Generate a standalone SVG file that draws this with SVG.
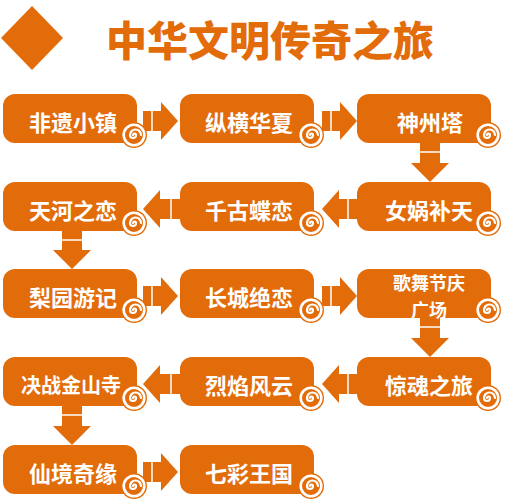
<svg xmlns="http://www.w3.org/2000/svg" xmlns:xlink="http://www.w3.org/1999/xlink" width="532" height="500" viewBox="0 0 532 500">
<style>
.box{fill:#E36C0A}
.arr{fill:#E36C0A}
.sep{stroke:#ffffff;stroke-width:1.5}
.lbl{font-family:"Noto Sans CJK SC","Noto Sans",sans-serif;font-weight:700;font-size:22px;fill:#ffffff;text-anchor:middle;dominant-baseline:central}
.title{font-family:"Noto Sans CJK SC","Noto Sans",sans-serif;font-weight:900;font-size:41px;fill:#E36C0A;text-anchor:middle;dominant-baseline:central}
</style>
<defs>
<g id="sp">
<circle r="13" fill="#E36C0A"/>
<circle r="10.3" fill="none" stroke="#ffffff" stroke-width="2.6"/>
<path d="M-1,0 A1.5,1.5 0 0 1 2,0 A3,3 0 0 1 -4,0 A5.5,5.5 0 0 1 7,0" fill="none" stroke="#ffffff" stroke-width="2.2" stroke-linecap="round"/>
</g>
</defs>
<rect width="532" height="500" fill="#ffffff"/>
<g id="title">
<polygon points="32,6 63,38 32,70 1,38" fill="#E36C0A"/>
<text class="title" x="270" y="38">中华文明传奇之旅</text>
</g>
<g id="connectors">
<path class="arr" d="M143,111 H161 V102 L178,121 L161,140 V131 H143 Z"/><line class="sep" x1="152" y1="111" x2="152" y2="131"/>
<path class="arr" d="M322,111 H340 V102 L357,121 L340,140 V131 H322 Z"/><line class="sep" x1="331" y1="111" x2="331" y2="131"/>
<path class="arr" d="M420,143 V163 H411 L430,182 L449,163 H440 V143 Z"/><line class="sep" x1="420" y1="152" x2="440" y2="152"/>
<path class="arr" d="M180,199 H160 V190 L143,209 L160,228 V219 H180 Z"/><line class="sep" x1="171" y1="199" x2="171" y2="219"/>
<path class="arr" d="M357,199 H339 V190 L322,209 L339,228 V219 H357 Z"/><line class="sep" x1="348" y1="199" x2="348" y2="219"/>
<path class="arr" d="M62,231 V250 H53 L72,269 L91,250 H82 V231 Z"/><line class="sep" x1="62" y1="240" x2="82" y2="240"/>
<path class="arr" d="M143,286 H161 V277 L178,296 L161,315 V306 H143 Z"/><line class="sep" x1="152" y1="286" x2="152" y2="306"/>
<path class="arr" d="M322,286 H340 V277 L357,296 L340,315 V306 H322 Z"/><line class="sep" x1="331" y1="286" x2="331" y2="306"/>
<path class="arr" d="M420,318 V338 H411 L430,357 L449,338 H440 V318 Z"/><line class="sep" x1="420" y1="327" x2="440" y2="327"/>
<path class="arr" d="M180,374 H160 V365 L143,384 L160,403 V394 H180 Z"/><line class="sep" x1="171" y1="374" x2="171" y2="394"/>
<path class="arr" d="M357,374 H339 V365 L322,384 L339,403 V394 H357 Z"/><line class="sep" x1="348" y1="374" x2="348" y2="394"/>
<path class="arr" d="M62,406 V426 H53 L72,445 L91,426 H82 V406 Z"/><line class="sep" x1="62" y1="415" x2="82" y2="415"/>
<path class="arr" d="M143,462 H161 V453 L178,472 L161,491 V482 H143 Z"/><line class="sep" x1="152" y1="462" x2="152" y2="482"/>
</g>
<g id="n1"><rect class="box" x="3" y="94" width="134" height="49" rx="12"/><text class="lbl" x="73" y="121">非遗小镇</text><use xlink:href="#sp" x="134" y="135"/></g>
<g id="n2"><rect class="box" x="180" y="94" width="134" height="49" rx="12"/><text class="lbl" x="249" y="121">纵横华夏</text><use xlink:href="#sp" x="311" y="135"/></g>
<g id="n3"><rect class="box" x="357" y="94" width="134" height="49" rx="12"/><text class="lbl" x="430" y="121">神州塔</text><use xlink:href="#sp" x="488" y="135"/></g>
<g id="n4"><rect class="box" x="357" y="182" width="134" height="49" rx="12"/><text class="lbl" x="429" y="209">女娲补天</text><use xlink:href="#sp" x="488" y="223"/></g>
<g id="n5"><rect class="box" x="180" y="182" width="134" height="49" rx="12"/><text class="lbl" x="249" y="209">千古蝶恋</text><use xlink:href="#sp" x="311" y="223"/></g>
<g id="n6"><rect class="box" x="3" y="182" width="134" height="49" rx="12"/><text class="lbl" x="73" y="209">天河之恋</text><use xlink:href="#sp" x="134" y="223"/></g>
<g id="n7"><rect class="box" x="3" y="269" width="134" height="49" rx="12"/><text class="lbl" x="73" y="296">梨园游记</text><use xlink:href="#sp" x="134" y="310"/></g>
<g id="n8"><rect class="box" x="180" y="269" width="134" height="49" rx="12"/><text class="lbl" x="249" y="296">长城绝恋</text><use xlink:href="#sp" x="311" y="310"/></g>
<g id="n9"><rect class="box" x="357" y="269" width="134" height="49" rx="12"/><text class="lbl" style="font-size:18px"><tspan x="429" y="282">歌舞节庆</tspan><tspan x="429" y="308.5">广场</tspan></text><use xlink:href="#sp" x="488" y="310"/></g>
<g id="n10"><rect class="box" x="357" y="357" width="134" height="49" rx="12"/><text class="lbl" x="429" y="384">惊魂之旅</text><use xlink:href="#sp" x="488" y="398"/></g>
<g id="n11"><rect class="box" x="180" y="357" width="134" height="49" rx="12"/><text class="lbl" x="249" y="384">烈焰风云</text><use xlink:href="#sp" x="311" y="398"/></g>
<g id="n12"><rect class="box" x="3" y="357" width="134" height="49" rx="12"/><text class="lbl" x="71" y="384" style="font-size:20px">决战金山寺</text><use xlink:href="#sp" x="134" y="398"/></g>
<g id="n13"><rect class="box" x="3" y="445" width="134" height="49" rx="12"/><text class="lbl" x="73" y="472">仙境奇缘</text><use xlink:href="#sp" x="134" y="486"/></g>
<g id="n14"><rect class="box" x="180" y="445" width="134" height="49" rx="12"/><text class="lbl" x="249" y="472">七彩王国</text><use xlink:href="#sp" x="311" y="486"/></g>
</svg>
